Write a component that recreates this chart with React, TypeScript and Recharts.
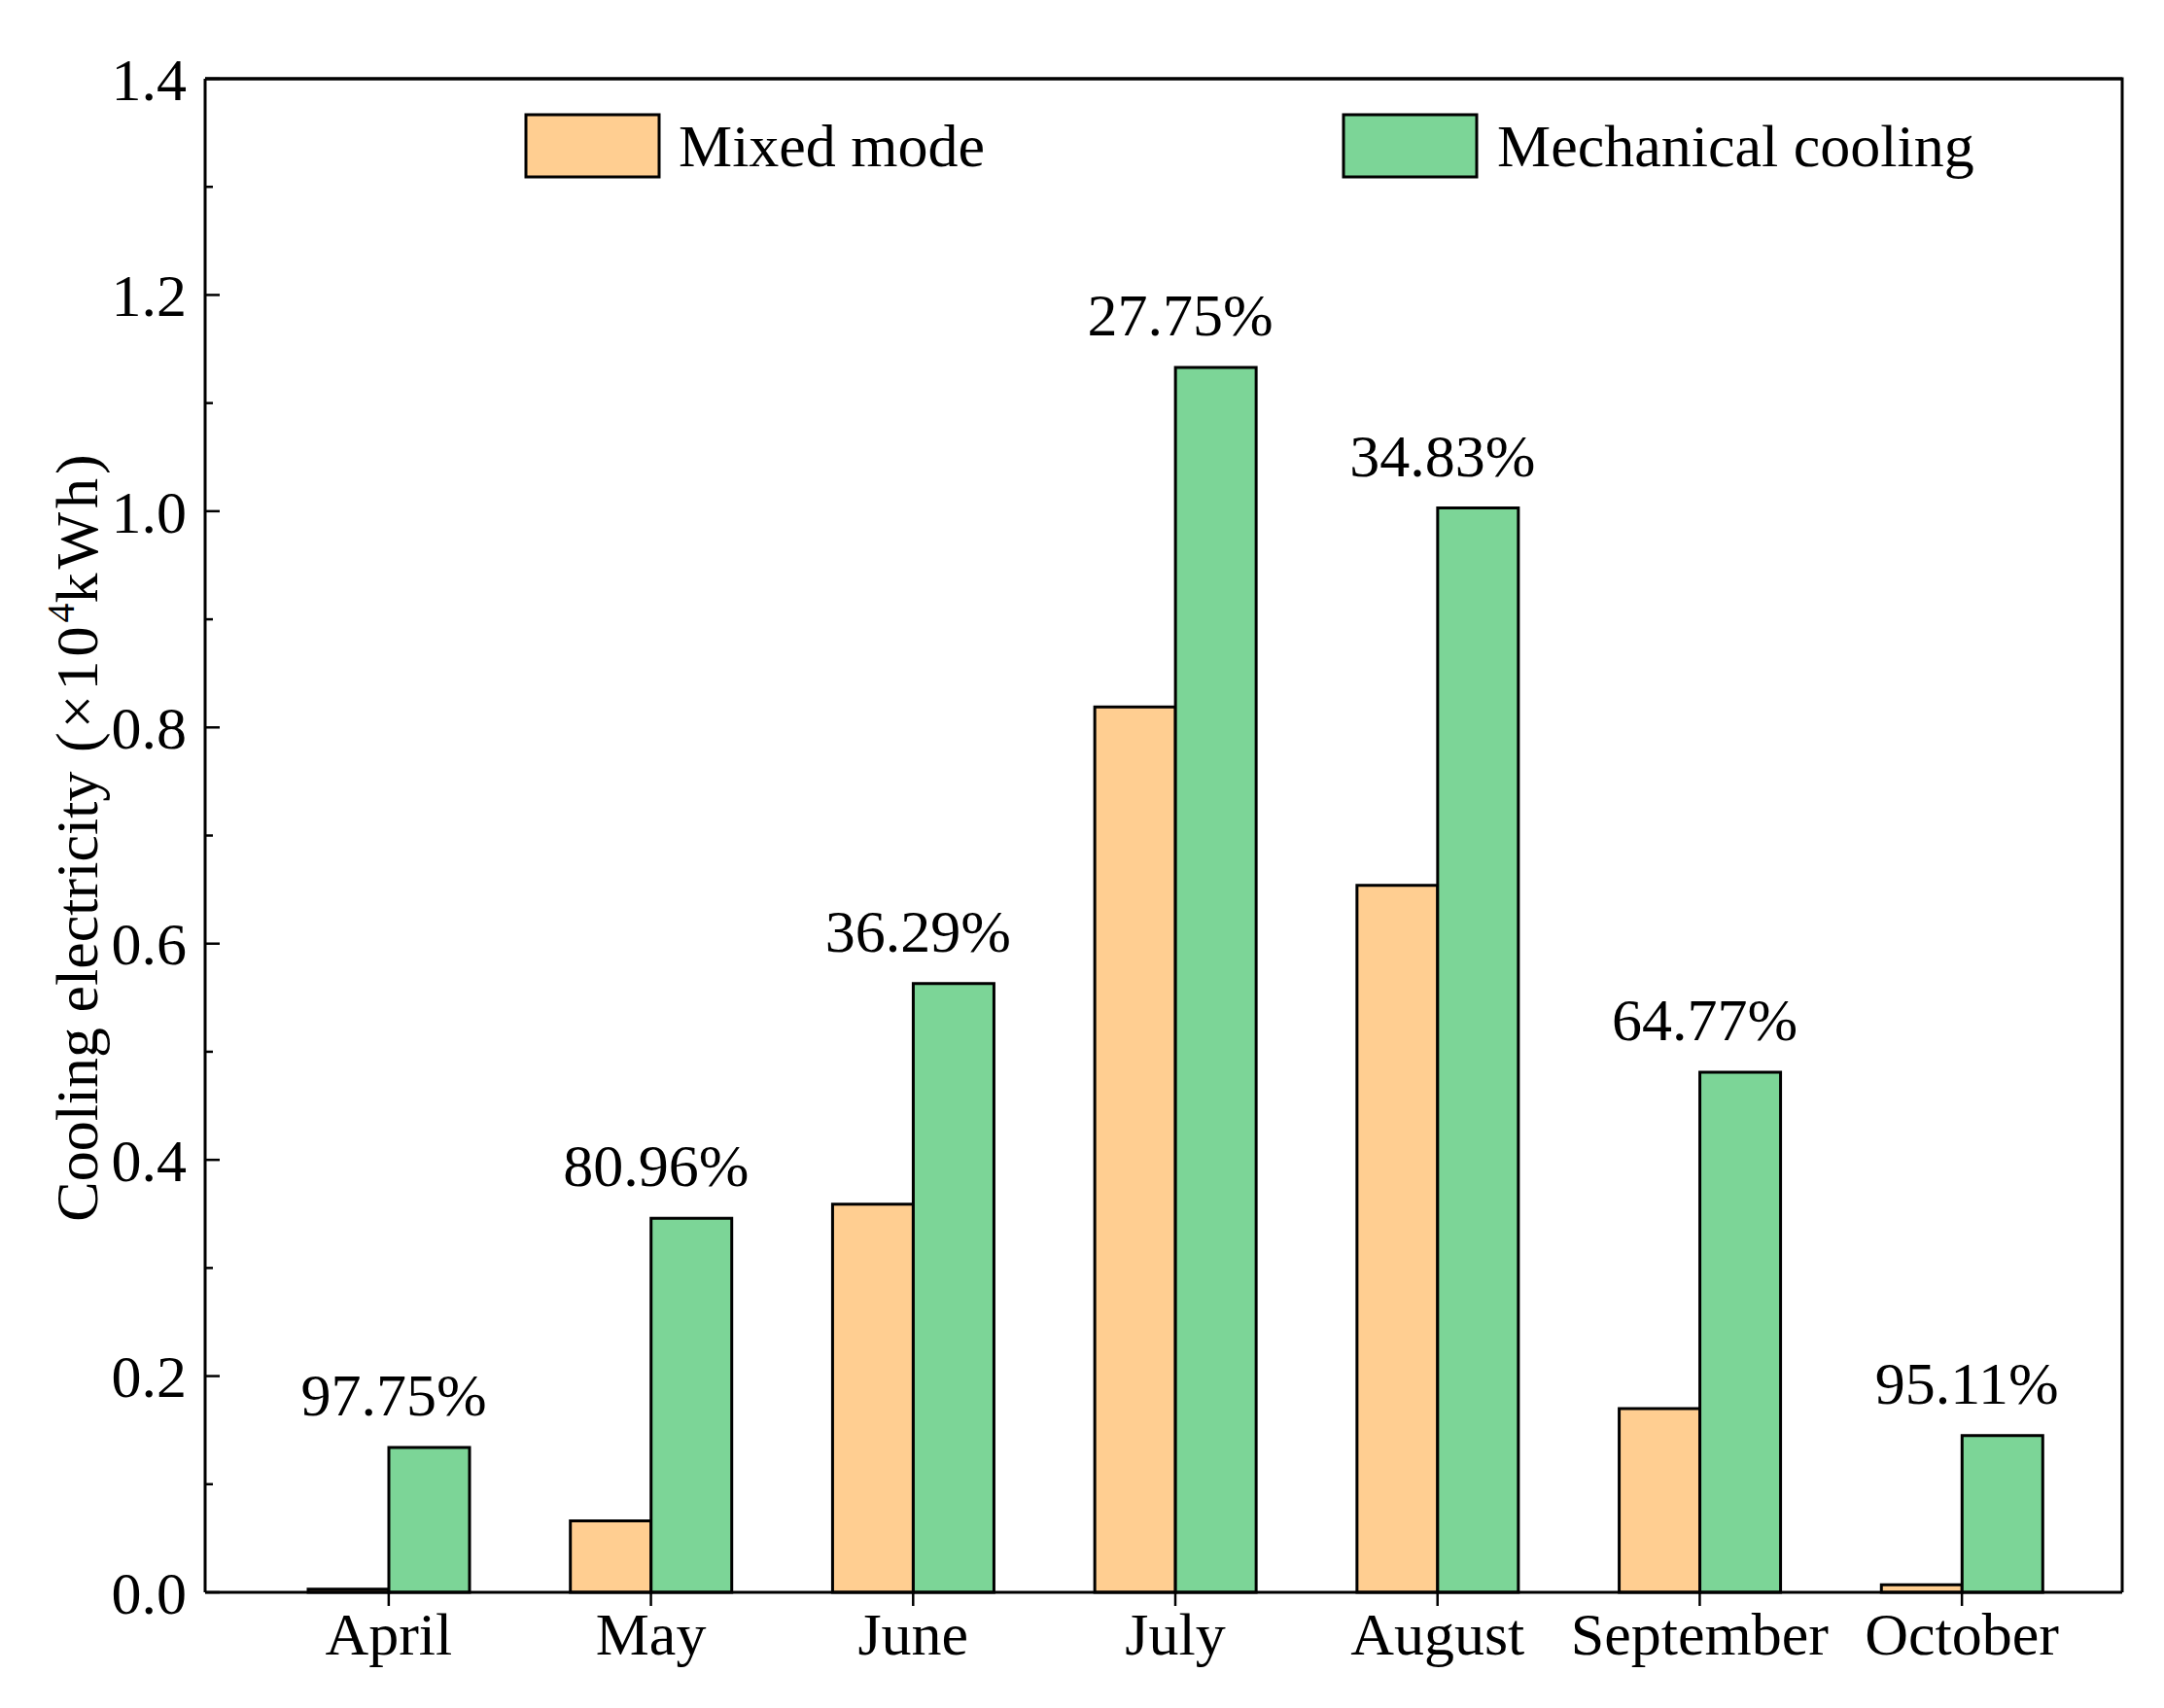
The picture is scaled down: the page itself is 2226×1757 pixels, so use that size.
import React from 'react';
import { BarChart, Bar, XAxis, YAxis, Legend, LabelList, ReferenceLine } from 'recharts';

const months = ['April', 'May', 'June', 'July', 'August', 'September', 'October'];
const mixedMode = [0.003, 0.066, 0.359, 0.819, 0.654, 0.17, 0.007];
const mechanicalCooling = [0.134, 0.346, 0.563, 1.133, 1.003, 0.481, 0.145];
const savingRate = [97.75, 80.96, 36.29, 27.75, 34.83, 64.77, 95.11];
const yTicks = [0, 0.1, 0.2, 0.3, 0.4, 0.5, 0.6, 0.7, 0.8, 0.9, 1.0, 1.1, 1.2, 1.3, 1.4];

const ORANGE = '#FFCE91';
const GREEN = '#7CD597';
const FONT = '"Liberation Serif", "Times New Roman", serif';
const FS = 62;

// plot frame edges (chart is placed at page origin)
const PLOT_LEFT = 211;
const PLOT_RIGHT = 2183;
const PLOT_TOP = 81;
const PLOT_BOTTOM = 1638;

const data = months.map((m, i) => ({
  month: m,
  mixed: mixedMode[i],
  mech: mechanicalCooling[i],
  rate: savingRate[i],
}));

const YTick = (props: any) => {
  const { x, y, payload } = props;
  const v = payload.value;
  const major = Math.round(v * 10) % 2 === 0;
  return (
    <g>
      <line x1={x} x2={x + (major ? 15 : 8)} y1={y} y2={y} stroke="#000" strokeWidth={2.5} />
      {major && (
        <text x={x - 19} y={y} dy="0.35em" textAnchor="end" fontSize={FS} fontFamily={FONT} fill="#000">
          {v.toFixed(1)}
        </text>
      )}
    </g>
  );
};

const YLabel = () => (
  <text transform="translate(100, 860) rotate(-90)" x={0} y={0} textAnchor="middle" fontSize={FS} fontFamily={FONT} fill="#000">
    Cooling electricity
    <tspan letterSpacing={4}> (×10</tspan>
    <tspan dy={-24} fontSize={40}>4</tspan>
    <tspan dy={24} letterSpacing={4}>kWh)</tspan>
  </text>
);

const RateLabel = (p: any) => (
  <text x={p.x + 5} y={p.y - 33} textAnchor="middle" fontSize={FS} fontFamily={FONT} fill="#000">
    {`${Number(p.value).toFixed(2)}%`}
  </text>
);

const LegendBox = () => (
  <div style={{ position: 'relative', height: 0 }}>
    <svg width={2226} height={1757} style={{ position: 'absolute', left: 0, top: 0, overflow: 'visible', pointerEvents: 'none' }}>
      <polyline
        points={`${PLOT_LEFT},${PLOT_TOP} ${PLOT_RIGHT},${PLOT_TOP} ${PLOT_RIGHT},${PLOT_BOTTOM}`}
        fill="none"
        stroke="#000"
        strokeWidth={3}
      />
      <rect x={541} y={118} width={137} height={64} fill={ORANGE} stroke="#000" strokeWidth={3} />
      <text x={698} y={171} fontSize={FS} fontFamily={FONT} fill="#000">Mixed mode</text>
      <rect x={1382} y={118} width={137} height={64} fill={GREEN} stroke="#000" strokeWidth={3} />
      <text x={1540} y={171} fontSize={FS} fontFamily={FONT} fill="#000">Mechanical cooling</text>
    </svg>
  </div>
);

export default function App() {
  return (
    <div style={{ position: 'absolute', left: 0, top: 0, width: 2226, height: 1757, background: '#fff' }}>
      <BarChart
        width={2226}
        height={1757}
        data={data}
        margin={{ top: PLOT_TOP, right: 2226 - PLOT_RIGHT, bottom: 0, left: 0 }}
        barGap={0}
        barSize={83}
      >
        <XAxis
          dataKey="month"
          height={1757 - PLOT_BOTTOM}
          interval={0}
          padding={{ left: 54, right: 30 }}
          axisLine={{ stroke: '#000', strokeWidth: 3 }}
          tickLine={{ stroke: '#000', strokeWidth: 2.5 }}
          tickSize={14}
          tickMargin={6}
          tick={{ fontSize: FS, fontFamily: FONT, fill: '#000' }}
        />
        <YAxis
          width={PLOT_LEFT}
          domain={[0, 1.4]}
          ticks={yTicks}
          interval={0}
          allowDecimals
          tickSize={0}
          tickMargin={0}
          tickLine={false}
          axisLine={{ stroke: '#000', strokeWidth: 3 }}
          tick={<YTick />}
          label={<YLabel />}
        />
        <ReferenceLine y={1.4} stroke="#000" strokeWidth={3} />
        <Legend content={() => <LegendBox />} wrapperStyle={{ position: 'absolute', left: 0, top: 0, width: 2226, height: 0 }} />
        <Bar dataKey="mixed" name="Mixed mode" fill={ORANGE} stroke="#000" strokeWidth={3} isAnimationActive={false} />
        <Bar dataKey="mech" name="Mechanical cooling" fill={GREEN} stroke="#000" strokeWidth={3} isAnimationActive={false}>
          <LabelList dataKey="rate" content={<RateLabel />} />
        </Bar>
      </BarChart>
    </div>
  );
}
